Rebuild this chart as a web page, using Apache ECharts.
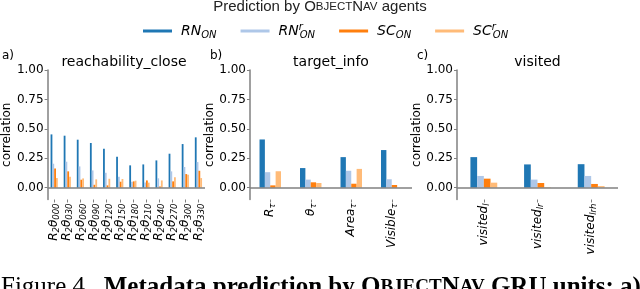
<!DOCTYPE html>
<html><head><meta charset="utf-8">
<script src="https://cdn.jsdelivr.net/npm/echarts@6/dist/echarts.min.js"></script>
<style>html,body{margin:0;padding:0;background:#fff}#c{width:640px;height:289px}</style>
</head><body><div id="c"></div>
<script>
// ---- data ----
const catsA = ['000','030','060','090','120','150','180','210','240','270','300','330'];
const rnA   = [0.453,0.442,0.408,0.380,0.331,0.263,0.190,0.198,0.232,0.289,0.371,0.428];
const rnrA  = [0.204,0.221,0.181,0.147,0.127,0.093,0.050,0.045,0.080,0.139,0.176,0.218];
const scA   = [0.164,0.139,0.068,0.025,0.020,0.051,0.054,0.062,0.011,0.054,0.116,0.144];
const scrA  = [0.082,0.093,0.079,0.071,0.076,0.074,0.060,0.043,0.062,0.090,0.110,0.082];

const catsB = ['R','θ','Area','Visible'];
const rnB   = [0.410,0.167,0.260,0.320];
const rnrB  = [0.132,0.069,0.144,0.072];
const scB   = [0.020,0.046,0.034,0.023];
const scrB  = [0.140,0.040,0.160,0.000];

const catsC = ['l','lr','lrh'];
const rnC   = [0.260,0.198,0.200];
const rnrC  = [0.100,0.069,0.100];
const scC   = [0.077,0.040,0.032];
const scrC  = [0.043,0.004,0.014];

const yTicks = [0, 0.25, 0.5, 0.75, 1.0];
const panelTitles = ['reachability_close','target_info','visited'];
const seriesNames = ['RN','RNr','SC','SCr'];
const colors = ['#1f77b4','#aec7e8','#ff7f0e','#ffbb78'];

// ---- layout ----
const grids = [
  {left:43, top:70, width:162, height:129.5},
  {left:250, top:70, width:162, height:129.5},
  {left:457, top:70, width:161, height:129.5}
];
const gaps = ['45%','47%','50%'];
const gray = '#808080';
const tickFont = 'DejaVu Sans';

const subRich = {
  i:{fontFamily:tickFont, fontStyle:'italic', fontSize:12, lineHeight:15, color:'#000'},
  s:{fontFamily:tickFont, fontStyle:'italic', fontSize:8.5, lineHeight:15, verticalAlign:'bottom', color:'#000'}
};
const fmtA = v => `{i|R}{s|2}{i|θ}{s|${v}}`;
const fmtB = v => `{i|${v}}{s|τ}`;
const fmtC = v => `{i|visited}{s|${v}}`;
const fmts = [fmtA, fmtB, fmtC];
const cats = [catsA, catsB, catsC];
const data = [[rnA,rnrA,scA,scrA],[rnB,rnrB,scB,scrB],[rnC,rnrC,scC,scrC]];

const xAxis = [], yAxis = [], series = [];
for (let p = 0; p < 3; p++) {
  xAxis.push({
    type:'category', gridIndex:p, data:cats[p],
    axisLine:{show:false, onZero:false},
    axisTick:{show:true, length:3, alignWithLabel:true, lineStyle:{color:gray}},
    axisLabel:{rotate:90, margin:4, formatter:fmts[p], rich:subRich, interval:0}
  });
  yAxis.push({
    type:'value', gridIndex:p, min:-0.1, max:1.0,
    name:'correlation', nameLocation:'middle', nameGap:32,
    nameTextStyle:{fontFamily:tickFont, fontSize:12, color:'#000'},
    axisLine:{show:true, lineStyle:{color:gray, width:1.5}},
    axisTick:{show:true, length:3, customValues:yTicks, lineStyle:{color:gray}},
    axisLabel:{customValues:yTicks, margin:4, fontFamily:tickFont, fontSize:12, color:'#000',
      formatter:v => v.toFixed(2)},
    splitLine:{show:false}
  });
  for (let k = 0; k < 4; k++) {
    const s = {
      name:seriesNames[k], type:'bar', xAxisIndex:p, yAxisIndex:p,
      data:data[p][k], barGap:'0%', barCategoryGap:gaps[p],
      itemStyle:{color:colors[k]}, animation:false
    };
    if (k === 0) {
      s.markLine = {silent:true, symbol:['none','none'], label:{show:false},
        lineStyle:{color:gray, width:1.5, type:'solid'}, data:[{yAxis:0}], animation:false};
    }
    series.push(s);
  }
}

const legendLabels = {
  RN:'{g|}{n|RN}{s|ON}',
  RNr:'{g|}{n|RN}{p|r}{s|ON}',
  SC:'{g|}{n|SC}{s|ON}',
  SCr:'{g|}{n|SC}{p|r}{s|ON}'
};

const graphics = [];
const titleX = [124, 331, 537.5];
for (let p = 0; p < 3; p++) {
  graphics.push({type:'text', x:titleX[p], y:62, silent:true,
    style:{text:panelTitles[p], fontFamily:tickFont, fontSize:14, fill:'#000', align:'center', verticalAlign:'middle'}});
}
[['a)',2],['b)',210],['c)',417]].forEach(([t,x]) => graphics.push({type:'text', x:x, y:56, silent:true,
  style:{text:t, fontFamily:tickFont, fontSize:12, fill:'#000', align:'left', verticalAlign:'middle'}}));
graphics.push({type:'text', x:320, y:7, silent:true,
  style:{text:'Prediction by {b|O}{c|BJECT}{b|N}{c|AV} agents', fontFamily:'Liberation Sans', fontSize:15, fill:'#222',
    align:'center', verticalAlign:'middle',
    rich:{b:{fontFamily:'Liberation Sans', fontSize:15, fill:'#222'}, c:{fontFamily:'Liberation Sans', fontSize:11.5, fill:'#222'}}}});
graphics.push({type:'text', x:1, y:275, silent:true,
  style:{text:'Figure 4.  {b|Metadata prediction by }{B|O}{c|BJECT}{B|N}{c|AV}{b| GRU units: a)}',
    fontFamily:'Liberation Serif', fontSize:25, fill:'#000', align:'left', verticalAlign:'top',
    rich:{b:{fontFamily:'Liberation Serif', fontWeight:'bold', fontSize:25}, B:{fontFamily:'Liberation Serif', fontWeight:'bold', fontSize:25},
      c:{fontFamily:'Liberation Serif', fontWeight:'bold', fontSize:19}}}});

const option = {
  animation:false,
  grid:grids,
  xAxis:xAxis, yAxis:yAxis, series:series,
  legend:{
    data:seriesNames, left:138, top:17, icon:'rect', itemWidth:29, itemHeight:3, itemGap:24,
    formatter:n => legendLabels[n],
    textStyle:{color:'#000', rich:{
      g:{width:4},
      n:{fontFamily:tickFont, fontStyle:'italic', fontSize:14, lineHeight:18, color:'#000'},
      s:{fontFamily:tickFont, fontStyle:'italic', fontSize:10, lineHeight:18, verticalAlign:'bottom', color:'#000'},
      p:{fontFamily:tickFont, fontStyle:'italic', fontSize:10, lineHeight:18, verticalAlign:'top', width:1, color:'#000'}
    }}
  },
  graphic:graphics
};
const chart = echarts.init(document.getElementById('c'), null, {renderer:'canvas'});
chart.setOption(option);
</script></body></html>
